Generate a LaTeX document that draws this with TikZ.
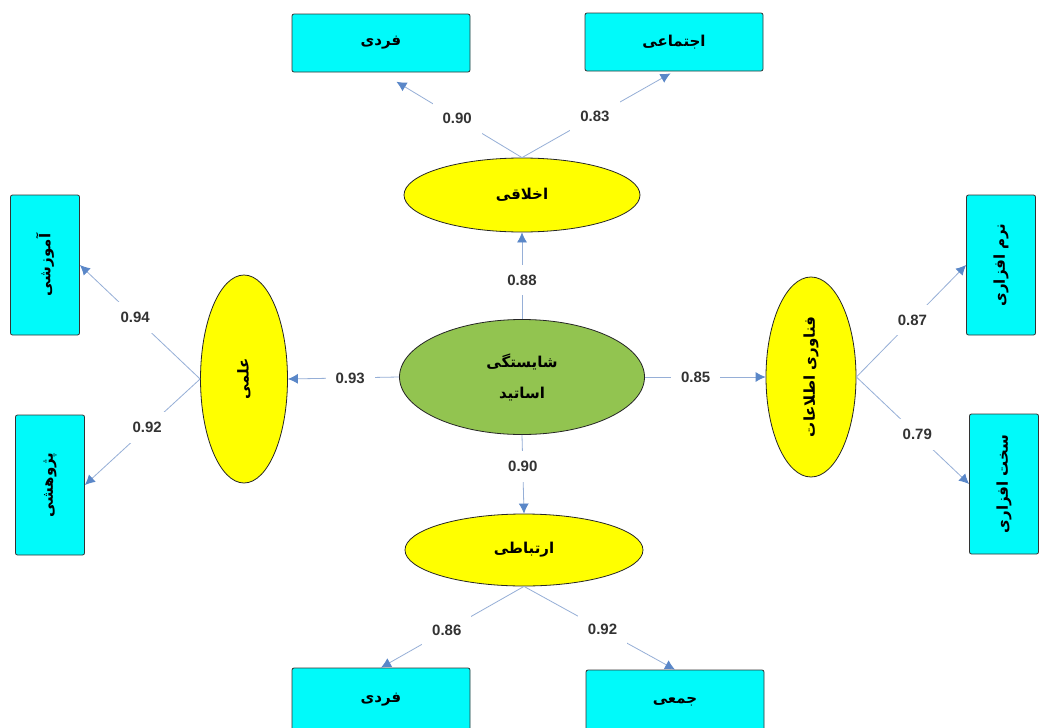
\documentclass[tikz,border=0pt]{standalone}
\usepackage{fontspec}
\setmainfont{Liberation Sans}
\newfontfamily\fa[Script=Arabic]{DejaVu Sans}
\TeXXeTstate=1
\usepackage{graphicx}
\usetikzlibrary{shapes.geometric,arrows.meta,positioning}
\definecolor{boxcyan}{RGB}{0,250,250}
\definecolor{latyel}{RGB}{255,255,0}
\definecolor{mainGreen}{RGB}{146,196,80}
\definecolor{lnkblue}{RGB}{150,175,215}
\definecolor{tipblue}{RGB}{90,135,200}
\newcommand{\fat}[1]{{\fa\bfseries\fontsize{15}{17}\selectfont\beginR #1\endR}}
\newcommand{\vfat}[1]{\rotatebox{90}{\fat{#1}}}

\begin{document}
\begin{tikzpicture}[x=1pt, y=-1pt, >={Latex[length=10pt,width=10pt,color=tipblue]},
    box/.style={draw=black!80, fill=boxcyan, rounded corners=2pt, line width=0.8pt, inner sep=0pt},
    hbox/.style={box, minimum width=178pt, minimum height=58pt},
    vbox/.style={box, minimum width=69pt, minimum height=140pt},
    latent/.style={ellipse, draw=black!85, fill=latyel, line width=0.8pt, inner sep=0pt},
    lnk/.style={->, draw=lnkblue, line width=0.8pt},
    val/.style={fill=white, inner sep=10pt, font=\bfseries\fontsize{15}{15}\selectfont, text=black!80}]
    \useasboundingbox[fill=white] (0,0) rectangle (1039,728);

    % main construct
    \node[latent, fill=mainGreen, minimum width=245pt, minimum height=115pt, align=center] (shay) at (522,377)
        {\fat{شایستگی}\\[16pt]\fat{اساتید}};

    % dimensions
    \node[latent, minimum width=236pt, minimum height=74pt] (akhl) at (522,195) {\fat{اخلاقی}};
    \node[latent, minimum width=238pt, minimum height=72pt] (ertb) at (524,550) {\fat{ارتباطی}};
    \node[latent, minimum width=87pt, minimum height=208pt] (elmi) at (244,379) {\vfat{علمی}};
    \node[latent, minimum width=90pt, minimum height=200pt] (fanv) at (811,377) {\vfat{فناوری اطلاعات}};

    % indicators
    \node[hbox] (fardT) at (381,43) {\fat{فردی}};
    \node[hbox] (ejtm) at (674,42) {\fat{اجتماعی}};
    \node[hbox, minimum height=64pt] (fardB) at (381,700) {\fat{فردی}};
    \node[hbox, minimum height=64pt] (jmei) at (675,702) {\fat{جمعی}};
    \node[vbox] (amoz) at (45,265) {\vfat{آموزشی}};
    \node[vbox] (pzhv) at (50,485) {\vfat{پژوهشی}};
    \node[vbox] (narm) at (1001,265) {\vfat{نرم افزاری}};
    \node[vbox] (sakht) at (1004,484) {\vfat{سخت افزاری}};

    % main construct to dimensions
    \draw[lnk] (shay.north) -- node[val, pos=0.45]{0.88} (akhl.south);
    \draw[lnk] (shay.south) -- node[val, pos=0.4]{0.90} (ertb.north);
    \draw[lnk] (shay.west) -- node[val, pos=0.44]{0.93} (elmi.east);
    \draw[lnk] (shay.east) -- node[val, pos=0.42]{0.85} (fanv.west);

    % dimensions to indicators
    \draw[lnk, shorten >=18pt] (akhl.north) -- node[val, pos=0.46]{0.90} (fardT.south);
    \draw[lnk, shorten >=4pt] (akhl.north) -- node[val, pos=0.48]{0.83} (ejtm.south);
    \draw[lnk] (ertb.south) -- node[val, pos=0.54]{0.86} (fardB.north);
    \draw[lnk] (ertb.south) -- node[val, pos=0.52]{0.92} (jmei.north);
    \draw[lnk] (elmi.west) -- node[val, pos=0.54]{0.94} (amoz.east);
    \draw[lnk] (elmi.west) -- node[val, pos=0.46]{0.92} (pzhv.east);
    \draw[lnk] (fanv.east) -- node[val, pos=0.51]{0.87} (narm.west);
    \draw[lnk] (fanv.east) -- node[val, pos=0.54]{0.79} (sakht.west);
\end{tikzpicture}
\end{document}
